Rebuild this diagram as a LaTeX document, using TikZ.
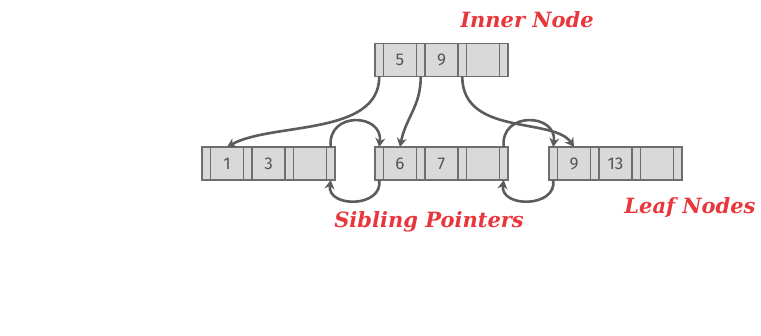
\documentclass[tikz,border=0pt]{standalone}
\usepackage{fontspec}
\usepackage{xcolor}
\usepackage{tikz}
\usetikzlibrary{arrows.meta,positioning,calc}
\setmainfont{DejaVu Serif}
\newfontfamily\keyfont{Fira Sans}

\definecolor{cellfill}{HTML}{D9D9D9}
\definecolor{cellborder}{HTML}{6E6E6E}
\definecolor{linkgray}{HTML}{5C5C5C}
\definecolor{keytext}{HTML}{555555}
\definecolor{labelred}{HTML}{E8363D}

\tikzset{
  ptrcell/.style={draw=cellborder, fill=cellfill, line width=1.2pt, minimum width=8.5pt, minimum height=33pt, inner sep=0pt, outer sep=0pt, anchor=west},
  keycell/.style={ptrcell, minimum width=33pt, font=\keyfont\fontsize{17}{17}\selectfont, text=keytext},
  link/.style={draw=linkgray, line width=2.6pt, -{Stealth[length=9pt,width=10pt,inset=3pt]}},
  redlabel/.style={text=labelred, font=\fontsize{21}{21}\selectfont\bfseries\itshape, anchor=base, inner sep=0pt}
}

% one page: pointer | key | pointer | key | pointer | key | pointer
\newcommand{\btreepage}[6]{%
  \node[ptrcell] (#1-p0) at (#2,#3) {};
  \node[keycell,right=0pt of #1-p0] (#1-k1) {#4};
  \node[ptrcell,right=0pt of #1-k1] (#1-p1) {};
  \node[keycell,right=0pt of #1-p1] (#1-k2) {#5};
  \node[ptrcell,right=0pt of #1-k2] (#1-p2) {};
  \node[keycell,right=0pt of #1-p2] (#1-k3) {#6};
  \node[ptrcell,right=0pt of #1-k3] (#1-p3) {};
}

\begin{document}
\begin{tikzpicture}[x=1pt,y=-1pt]
\useasboundingbox (0,0) rectangle (761,335);

% Inner node
\btreepage{inner}{375}{60}{5}{9}{}

% Leaf nodes
\btreepage{leafa}{202}{163.5}{1}{3}{}
\btreepage{leafb}{375}{163.5}{6}{7}{}
\btreepage{leafc}{549}{163.5}{9}{13}{}

% Child pointers
\draw[link] (inner-p0.south) .. controls +(0,60) and +(45,-25) .. (leafa-k1.north);
\draw[link] (inner-p1.south) .. controls +(0,30) and +(6,-30) .. (leafb-k1.north);
\draw[link] (inner-p2.south) .. controls +(0,60) and +(-20,-30) .. (leafc-k1.north);

% Sibling pointers
\draw[link] (leafa-p3.north) .. controls +(-4,-36) and +(4,-34) .. (leafb-p0.north);
\draw[link] (leafb-p0.south) .. controls +(4,28) and +(-4,28) .. (leafa-p3.south);
\draw[link] (leafb-p3.north) .. controls +(-4,-36) and +(4,-34) .. (leafc-p0.north);
\draw[link] (leafc-p0.south) .. controls +(4,28) and +(-4,28) .. (leafb-p3.south);

% Labels
\node[redlabel] (innerlabel) at (527,27) {Inner Node};
\node[redlabel] (siblinglabel) at (429,227) {Sibling Pointers};
\node[redlabel] (leaflabel) at (690,213) {Leaf Nodes};

\end{tikzpicture}
\end{document}
